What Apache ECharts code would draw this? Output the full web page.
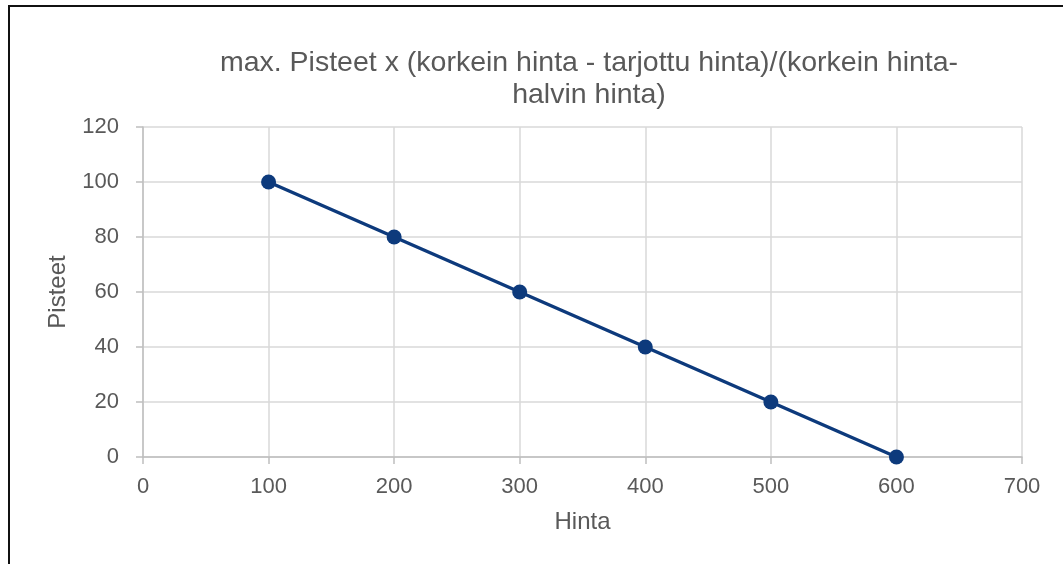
<!DOCTYPE html>
<html>
<head>
<meta charset="utf-8">
<script src="https://cdn.jsdelivr.net/npm/echarts@6/dist/echarts.min.js"></script>
<style>
  html, body { margin: 0; padding: 0; background: #fff; }
  #frame { position: absolute; left: 8px; top: 5px; width: 1055px; height: 559px;
           border-top: 2px solid #111; border-left: 2px solid #111; box-sizing: border-box; }
  #chart { position: absolute; left: 0; top: 0; width: 1063px; height: 564px; }
</style>
</head>
<body>
<div id="frame"></div>
<div id="chart"></div>
<script>
// hinta (x) and pisteet (y)
const hinta = [100, 200, 300, 400, 500, 600];
const pisteet = [100, 80, 60, 40, 20, 0];
const titleText = 'max. Pisteet x (korkein hinta - tarjottu hinta)/(korkein hinta-\nhalvin hinta)';

const chart = echarts.init(document.getElementById('chart'), null, { renderer: 'canvas' });
const gray = '#595959';
const gridColor = '#d9d9d9';
const font = 'Liberation Sans, Arial';

chart.setOption({
  animation: false,
  title: {
    text: titleText,
    left: 584, top: 42,
    textAlign: 'center',
    textStyle: { fontFamily: font, fontSize: 28.5, fontWeight: 'normal', color: gray, lineHeight: 32 }
  },
  grid: { left: 143, right: 41, top: 127, bottom: 107 },
  xAxis: {
    type: 'value', min: 0, max: 700, interval: 100,
    name: 'Hinta', nameLocation: 'middle', nameGap: 53,
    nameTextStyle: { fontFamily: font, fontSize: 24, color: gray },
    axisLine: { show: true, lineStyle: { color: '#bfbfbf', width: 1.5 } },
    axisTick: { show: true, length: 7, lineStyle: { color: '#bfbfbf', width: 1.5 } },
    axisLabel: { fontFamily: font, fontSize: 22, color: gray, margin: 19 },
    splitLine: { show: true, lineStyle: { color: gridColor, width: 1.5 } }
  },
  yAxis: {
    type: 'value', min: 0, max: 120, interval: 20,
    name: 'Pisteet', nameLocation: 'middle', nameGap: 73, nameRotate: 90,
    nameTextStyle: { fontFamily: font, fontSize: 24, color: gray },
    axisLine: { show: true, lineStyle: { color: '#bfbfbf', width: 1.5 } },
    axisTick: { show: true, length: 7, lineStyle: { color: '#bfbfbf', width: 1.5 } },
    axisLabel: { fontFamily: font, fontSize: 22, color: gray, margin: 24 },
    splitLine: { show: true, lineStyle: { color: gridColor, width: 1.5 } }
  },
  series: [{
    type: 'line',
    data: hinta.map((h, i) => [h, pisteet[i]]),
    symbol: 'circle',
    symbolSize: 15,
    lineStyle: { color: '#0d3a7c', width: 3.5 },
    itemStyle: { color: '#0d3a7c' }
  }]
});
</script>
</body>
</html>
